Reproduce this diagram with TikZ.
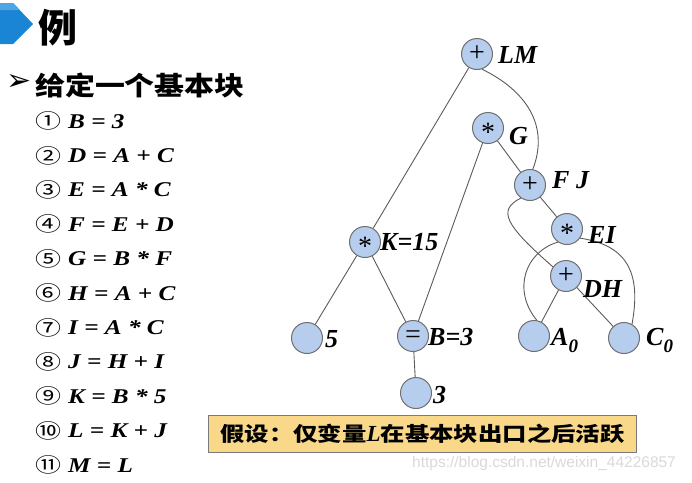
\documentclass[tikz,border=0pt]{standalone}
\usepackage{fontspec}
\setmainfont{Liberation Serif}
\newfontfamily\tms{Liberation Serif}
\newfontfamily\tmsw[FakeStretch=1.2]{Liberation Serif}
\newfontfamily\cjk{Noto Sans CJK SC}
\newfontfamily\cjkw[FakeStretch=1.15]{Noto Sans CJK SC}
\newfontfamily\cjkb[FakeStretch=1.22]{Noto Sans CJK SC}
\newfontfamily\cjkn[FakeStretch=1.3]{Noto Sans CJK SC}
\newfontfamily\dvsn{DejaVu Sans}
\newfontfamily\lsans{Liberation Sans}
\definecolor{nodefill}{HTML}{B7CDEE}
\definecolor{nodeline}{HTML}{6F6F6F}
\definecolor{edgecol}{HTML}{5A5A5A}
\definecolor{chevblue}{HTML}{1A84D5}
\definecolor{chevlight}{HTML}{4EA6E6}
\definecolor{notefill}{HTML}{F9D88A}
\definecolor{noteline}{HTML}{7A7A7A}
\begin{document}
\begin{tikzpicture}[x=1pt,y=-1pt,
  vnode/.style={circle, draw=nodeline, fill=nodefill, line width=1pt, minimum size=31pt, inner sep=0pt},
  plusnode/.style={vnode, font=\tms\fontsize{28}{28}\selectfont, text height=14pt, text depth=0pt},
  starnode/.style={vnode, font=\tms\fontsize{28}{28}\selectfont, text height=26pt, text depth=0pt},
  lab/.style={anchor=base west, inner sep=0pt, font=\tms\bfseries\itshape\fontsize{26}{30}\selectfont},
  edge/.style={draw=edgecol, line width=0.9pt},
  lst/.style={anchor=base west, inner sep=0pt, font=\tmsw\bfseries\itshape\fontsize{21}{24}\selectfont},
  num/.style={inner sep=0pt, font=\cjkn\fontsize{20}{22}\selectfont}]
\useasboundingbox (0,0) rectangle (692,482);

% title
\fill[chevblue] (0,3) -- (13,3) -- (33,24) -- (13,44) -- (0,44) -- cycle;
\fill[chevlight] (0,3) -- (13,3) -- (20,10) -- (0,10) -- cycle;
\node[inner sep=0pt, font=\cjk\bfseries\fontsize{39}{40}\selectfont] (title) at (58,27.5) {例};
\node[inner sep=0pt, font=\dvsn\fontsize{30}{32}\selectfont] (arrowmark) at (19,82) {➢};
\node[anchor=west, inner sep=0pt, font=\cjkw\bfseries\fontsize{26}{28}\selectfont] (head) at (35,85) {给定一个基本块};

% list
\foreach \i/\n/\t in {1/①/{B = 3},2/②/{D = A + C},3/③/{E = A * C},4/④/{F = E + D},5/⑤/{G = B * F},6/⑥/{H = A + C},7/⑦/{I = A * C},8/⑧/{J = H + I},9/⑨/{K = B * 5},10/⑩/{L = K + J},11/⑪/{M = L}}{
  \node[num] (n\i) at (48,{121+34.4*(\i-1)}) {\n};
  \node[lst] (s\i) at (68,{128+34.4*(\i-1)}) {\t};
}

% tree nodes
\node[plusnode] (LM) at (477,54) {+};
\node[starnode] (G) at (488,128) {*};
\node[plusnode] (FJ) at (530,185) {+};
\node[starnode] (EI) at (567,229) {*};
\node[plusnode] (DH) at (566,276) {+};
\node[starnode] (K) at (365,242) {*};
\node[vnode] (N5) at (307,338) {};
\node[plusnode] (EQ) at (413,336) {=};
\node[vnode] (N3) at (416,393) {};
\node[vnode] (A0) at (534,336) {};
\node[vnode] (C0) at (624,338) {};

% edges
\draw[edge] (LM) -- (K);
\draw[edge] (LM.-72) .. controls (525,90) and (550,125) .. (FJ.80);
\draw[edge] (G) -- (FJ);
\draw[edge] (G) -- (EQ);
\draw[edge] (K) -- (N5);
\draw[edge] (K) -- (EQ);
\draw[edge] (EQ) -- (N3);
\draw[edge] (FJ) -- (EI);
\draw[edge] (FJ.-125) .. controls (497,210) and (505,225) .. (DH.145);
\draw[edge] (EI.-125) .. controls (525,252) and (512,290) .. (A0.80);
\draw[edge] (EI.-35) .. controls (625,245) and (642,270) .. (C0.60);
\draw[edge] (DH) -- (A0);
\draw[edge] (DH) -- (C0);

% labels
\node[lab] (tLM) at (498,63) {LM};
\node[lab] (tG) at (509,144) {G};
\node[lab] (tFJ) at (552,188) {F J};
\node[lab] (tEI) at (588,243) {EI};
\node[lab] (tK) at (380,250) {K=15};
\node[lab] (t5) at (325,347) {5};
\node[lab] (tB) at (428,345) {B=3};
\node[lab] (t3) at (433,403) {3};
\node[lab] (tDH) at (583,297) {DH};
\node[lab] (tA) at (551,345) {A\raisebox{-7pt}{\fontsize{19}{20}\selectfont 0}};
\node[lab] (tC) at (646,345) {C\raisebox{-7pt}{\fontsize{19}{20}\selectfont 0}};

% note box
\node[draw=noteline, fill=notefill, line width=1pt, minimum width=428pt, minimum height=37pt, inner sep=0pt,
  font=\cjkb\bfseries\fontsize{20}{22}\selectfont] (note) at (422.5,433.5)
  {假设：仅变量{\tms\bfseries\itshape\fontsize{23}{24}\selectfont L}在基本块出口之后活跃};

% watermark
\node[anchor=west, inner sep=0pt, text=gray!30, font=\lsans\fontsize{15.5}{16}\selectfont] (wm) at (412,463) {https://blog.csdn.net/weixin\_44226857};
\end{tikzpicture}
\end{document}
